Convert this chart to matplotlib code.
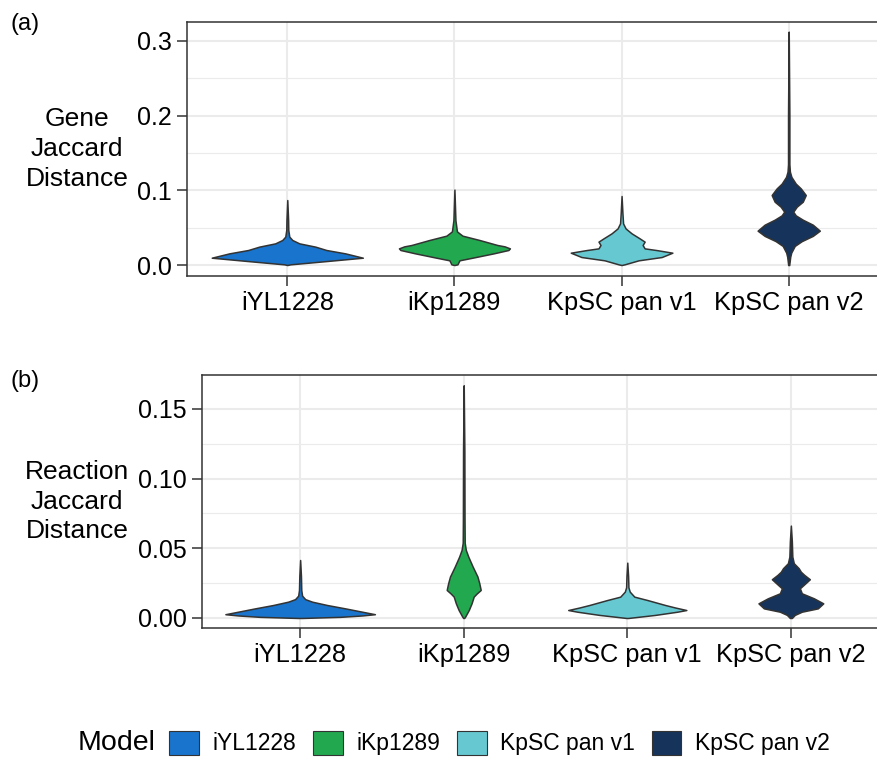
import numpy as np
import matplotlib
matplotlib.use("Agg")
import matplotlib.pyplot as plt
from matplotlib.patches import Patch

plt.rcParams['font.family'] = ['Liberation Sans', 'DejaVu Sans']

models = ["iYL1228", "iKp1289", "KpSC pan v1", "KpSC pan v2"]
colors = ["#1874CD", "#22A94F", "#66C9D2", "#16345B"]

# violin outlines: y value -> half width (in category units)
gene_y = [
    [0.0, 0.0009, 0.0054, 0.0098, 0.0156, 0.0201, 0.0246, 0.029, 0.0335, 0.038, 0.047, 0.06, 0.087],
    [0.0, 0.0009, 0.0063, 0.0098, 0.0156, 0.0201, 0.0223, 0.025, 0.0268, 0.0335, 0.0393, 0.045, 0.06, 0.101],
    [0.0, 0.0009, 0.0063, 0.0107, 0.0165, 0.020, 0.0223, 0.0268, 0.0313, 0.0357, 0.0424, 0.049, 0.0558, 0.07, 0.0924],
    [0.0, 0.011, 0.0166, 0.0256, 0.032, 0.039, 0.046, 0.054, 0.0607, 0.0665, 0.0714, 0.0781, 0.0848,
     0.0937, 0.1026, 0.109, 0.118, 0.125, 0.135, 0.2, 0.3125],
]
gene_w = [
    [0.0, 0.018, 0.24, 0.452, 0.347, 0.234, 0.168, 0.072, 0.03, 0.012, 0.006, 0.005, 0.0],
    [0.0, 0.018, 0.03, 0.108, 0.234, 0.323, 0.332, 0.3, 0.257, 0.15, 0.048, 0.015, 0.006, 0.0],
    [0.0, 0.018, 0.102, 0.24, 0.304, 0.21, 0.138, 0.126, 0.138, 0.108, 0.06, 0.024, 0.009, 0.005, 0.0],
    [0.003, 0.009, 0.015, 0.036, 0.078, 0.144, 0.186, 0.144, 0.084, 0.042, 0.027, 0.048, 0.084,
     0.102, 0.072, 0.042, 0.016, 0.007, 0.004, 0.004, 0.0],
]

rxn_y = [
    [0.0, 0.0008, 0.0018, 0.0027, 0.0045, 0.0069, 0.0093, 0.0117, 0.0135, 0.016, 0.02, 0.03, 0.0416],
    [0.0, 0.001, 0.0057, 0.0105, 0.0153, 0.0175, 0.0201, 0.025, 0.0297, 0.0368, 0.044, 0.0488,
     0.054, 0.07, 0.12, 0.167],
    [0.0, 0.0022, 0.0045, 0.0057, 0.0075, 0.0093, 0.0129, 0.0153, 0.0189, 0.022, 0.03, 0.0397],
    [0.0, 0.0022, 0.0045, 0.0069, 0.0105, 0.0141, 0.0177, 0.0213, 0.0249, 0.0278, 0.0309, 0.0332,
     0.0357, 0.0393, 0.044, 0.055, 0.0663],
]
rxn_w = [
    [0.012, 0.245, 0.379, 0.457, 0.379, 0.275, 0.165, 0.073, 0.031, 0.012, 0.007, 0.005, 0.0],
    [0.003, 0.009, 0.031, 0.048, 0.061, 0.079, 0.104, 0.095, 0.084, 0.055, 0.028, 0.013,
     0.006, 0.005, 0.004, 0.0],
    [0.006, 0.171, 0.306, 0.361, 0.293, 0.232, 0.122, 0.043, 0.015, 0.007, 0.005, 0.0],
    [0.006, 0.024, 0.067, 0.165, 0.198, 0.141, 0.067, 0.055, 0.089, 0.116, 0.082, 0.061,
     0.048, 0.018, 0.009, 0.006, 0.0],
]

gene_ticks = [0.0, 0.1, 0.2, 0.3]
gene_minor = [0.05, 0.15, 0.25]
rxn_ticks = [0.0, 0.05, 0.10, 0.15]
rxn_minor = [0.025, 0.075, 0.125]

dark = "#333333"
grid = "#EBEBEB"

fig = plt.figure(figsize=(8.77, 7.57), dpi=100)
ax1 = fig.add_axes([187/877, 1 - 276/757, 702/877, 254/757])
ax2 = fig.add_axes([202/877, 1 - 628/757, 687/877, 253/757])


def draw_panel(ax, ys, ws, ticks, minor, ylim, labels, ylab, label_x):
    for i in range(len(models)):
        y = np.array(ys[i])
        w = np.array(ws[i])
        pos = i + 1
        ax.fill_betweenx(y, pos - w, pos + w, facecolor=colors[i],
                         edgecolor=dark, linewidth=1.1, zorder=3)
    ax.set_xlim(0.4, 4.6)
    ax.set_ylim(*ylim)
    ax.set_xticks(range(1, 5))
    ax.set_xticklabels(models, fontsize=18.3)
    ax.set_yticks(ticks)
    ax.set_yticklabels(labels, fontsize=18)
    ax.set_yticks(minor, minor=True)
    ax.tick_params(axis='y', which='minor', length=0)
    ax.tick_params(which='major', length=7, width=1.1, color=dark,
                   labelcolor="black", pad=4)
    ax.grid(which='major', color=grid, linewidth=1.5, zorder=0)
    ax.grid(which='minor', axis='y', color=grid, linewidth=0.8, zorder=0)
    ax.set_axisbelow(True)
    for s in ax.spines.values():
        s.set_color(dark)
        s.set_linewidth(1.1)
    ax.set_ylabel(ylab, rotation=0, fontsize=19, ha='center', va='center',
                  multialignment='center', linespacing=1.3)
    ax.yaxis.set_label_coords(label_x, 0.5)


draw_panel(ax1, gene_y, gene_w, gene_ticks, gene_minor, (-0.0147, 0.3254),
           ["0.0", "0.1", "0.2", "0.3"], "Gene\nJaccard\nDistance", (77 - 187) / 702)
draw_panel(ax2, rxn_y, rxn_w, rxn_ticks, rxn_minor, (-0.0072, 0.1744),
           ["0.00", "0.05", "0.10", "0.15"], "Reaction\nJaccard\nDistance", (77 - 202) / 687)

fig.text(10/877, 1 - 24/757, "(a)", fontsize=17, va='center', ha='left')
fig.text(10/877, 1 - 381/757, "(b)", fontsize=17, va='center', ha='left')

# legend
fig.text(78/877, 1 - 743/757, "Model", fontsize=20.5, va='center', ha='left')
handles = [Patch(facecolor=c, edgecolor=dark, linewidth=0.8) for c in colors]
fig.legend(handles, models, loc='center left', bbox_to_anchor=(169/877, 1 - 743/757),
           ncol=4, frameon=False, fontsize=16.5, handlelength=1.3, handleheight=1.25,
           handletextpad=0.6, columnspacing=0.72, borderpad=0, borderaxespad=0)

fig.savefig("out.png", dpi=100)
